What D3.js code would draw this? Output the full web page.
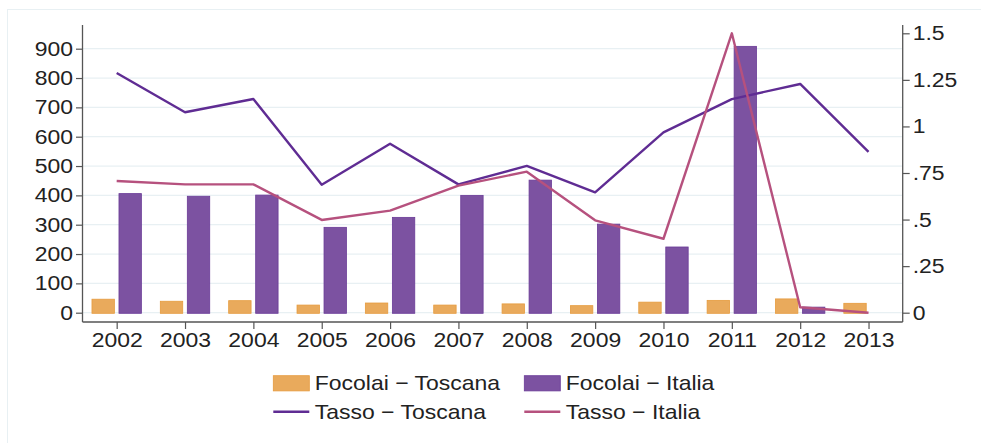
<!DOCTYPE html>
<html>
<head>
<meta charset="utf-8">
<script src="https://cdn.jsdelivr.net/npm/d3@7/dist/d3.min.js"></script>
<style>
  html, body { margin: 0; padding: 0; background: #fff; }
  svg { display: block; font-family: "Liberation Sans", Arial, Helvetica, sans-serif; }
</style>
</head>
<body>
<svg id="chart" width="981" height="443"></svg>
<script>
// Years on the x axis
const years = [2002, 2003, 2004, 2005, 2006, 2007, 2008, 2009, 2010, 2011, 2012, 2013];
// Outbreaks (left axis)
const focolaiToscana = [46, 39, 41, 26, 33, 26, 30, 24, 36, 42, 47, 32];
const focolaiItalia  = [406, 397, 401, 291, 325, 400, 452, 302, 224, 908, 19, 0];
// Rates (right axis)
const tassoToscana = [1.287, 1.076, 1.147, 0.687, 0.907, 0.689, 0.788, 0.646, 0.968, 1.147, 1.228, 0.863];
const tassoItalia  = [0.707, 0.689, 0.689, 0.498, 0.548, 0.682, 0.757, 0.496, 0.397, 1.5, 0.029, 0];
// Tick values and labels
const leftTicks = [0, 100, 200, 300, 400, 500, 600, 700, 800, 900];
const rightTicks = [0, 0.25, 0.5, 0.75, 1, 1.25, 1.5];
const rightTickLabels = ["0", ".25", ".5", ".75", "1", "1.25", "1.5"];
const legendLabels = ["Focolai \u2212 Toscana", "Focolai \u2212 Italia", "Tasso \u2212 Toscana", "Tasso \u2212 Italia"];

const colors = {
  orangeFill: "#E9AA5C", orangeStroke: "#E69B3D",
  purpleFill: "#7C52A1", purpleStroke: "#6A3B97",
  lineToscana: "#5F2C93", lineItalia: "#B6517E",
  grid: "#E8F0F3", axis: "#555555", text: "#222222"
};

const svg = d3.select("#chart");

// plot region
const plot = { left: 82.5, right: 902.7, top: 25, bottom: 322 };

const x = d3.scaleLinear().domain([2001.5, 2013.5]).range([plot.left, plot.right]);
const yL = d3.scaleLinear().domain([0, 900]).range([312.7, 48.7]);
const yR = d3.scaleLinear().domain([0, 1.5]).range([312.7, 33.3]);

// text is set slightly wide
const fontSize = 20.5;
const sx = 1.12;

// outer frame
svg.append("rect")
  .attr("x", 7.5).attr("y", 9.5).attr("width", 1000).attr("height", 1000)
  .attr("fill", "none").attr("stroke", colors.grid).attr("stroke-width", 1);

// horizontal grid
svg.append("g").selectAll("line").data(leftTicks).join("line")
  .attr("x1", plot.left).attr("x2", plot.right)
  .attr("y1", d => yL(d)).attr("y2", d => yL(d))
  .attr("stroke", colors.grid).attr("stroke-width", 1.2);

// bars
const barW = 22.4, off = 13.5;
svg.append("g").selectAll("rect").data(years.map((y, i) => ({ y, v: focolaiToscana[i] }))).join("rect")
  .attr("x", d => x(d.y) - off - barW / 2)
  .attr("y", d => yL(d.v))
  .attr("width", barW)
  .attr("height", d => yL(0) - yL(d.v) + 0.6)
  .attr("fill", colors.orangeFill).attr("stroke", colors.orangeStroke).attr("stroke-width", 0.8);

svg.append("g").selectAll("rect").data(years.map((y, i) => ({ y, v: focolaiItalia[i] })).filter(d => d.v > 0)).join("rect")
  .attr("x", d => x(d.y) + off - barW / 2)
  .attr("y", d => yL(d.v))
  .attr("width", barW)
  .attr("height", d => yL(0) - yL(d.v) + 0.6)
  .attr("fill", colors.purpleFill).attr("stroke", colors.purpleStroke).attr("stroke-width", 0.8);

// lines
const line = d3.line().x(d => x(d[0])).y(d => yR(d[1]));
svg.append("path")
  .datum(years.map((y, i) => [y, tassoToscana[i]]))
  .attr("d", line).attr("fill", "none")
  .attr("stroke", colors.lineToscana).attr("stroke-width", 2.4).attr("stroke-linejoin", "round");
svg.append("path")
  .datum(years.map((y, i) => [y, tassoItalia[i]]))
  .attr("d", line).attr("fill", "none")
  .attr("stroke", colors.lineItalia).attr("stroke-width", 2.4).attr("stroke-linejoin", "round");

// axes
const gL = svg.append("g").attr("transform", `translate(${plot.left},0)`)
  .call(d3.axisLeft(yL).tickValues(leftTicks).tickSize(6.5).tickPadding(3).tickFormat(d3.format("d")));
const gR = svg.append("g").attr("transform", `translate(${plot.right},0)`)
  .call(d3.axisRight(yR).tickValues(rightTicks).tickSize(7).tickPadding(3)
    .tickFormat((d, i) => rightTickLabels[i]));
const gX = svg.append("g").attr("transform", `translate(0,${plot.bottom})`)
  .call(d3.axisBottom(x).tickValues(years).tickSize(7).tickPadding(3).tickFormat(d3.format("d")));

[gL, gR, gX].forEach(g => {
  g.select(".domain").remove();
  g.selectAll(".tick line").attr("stroke", colors.axis).attr("stroke-width", 1.2);
  g.selectAll(".tick text").attr("fill", colors.text).style("font-size", fontSize + "px")
    .style("font-family", "'Liberation Sans', Arial, Helvetica, sans-serif")
    .attr("x", function () { return (+d3.select(this).attr("x") || 0) / sx; })
    .attr("transform", `scale(${sx},1)`);
});

// axis lines
const axisLines = [
  [plot.left, plot.top, plot.left, plot.bottom],
  [plot.right, plot.top, plot.right, plot.bottom],
  [plot.left, plot.bottom, plot.right, plot.bottom]
];
svg.append("g").selectAll("line").data(axisLines).join("line")
  .attr("x1", d => d[0]).attr("y1", d => d[1]).attr("x2", d => d[2]).attr("y2", d => d[3])
  .attr("stroke", colors.axis).attr("stroke-width", 1.3);

// legend
const legend = svg.append("g");
const cols = [273.3, 524.3];
const rows = [383.3, 411.7];
const items = [
  { type: "rect", fill: colors.orangeFill, stroke: colors.orangeStroke },
  { type: "rect", fill: colors.purpleFill, stroke: colors.purpleStroke },
  { type: "line", stroke: colors.lineToscana },
  { type: "line", stroke: colors.lineItalia }
];
items.forEach((it, i) => {
  const cx = cols[i % 2], cy = rows[Math.floor(i / 2)];
  if (it.type === "rect") {
    legend.append("rect").attr("x", cx).attr("y", cy - 7.6).attr("width", 36).attr("height", 15.2)
      .attr("fill", it.fill).attr("stroke", it.stroke).attr("stroke-width", 0.8);
  } else {
    legend.append("line").attr("x1", cx).attr("x2", cx + 36).attr("y1", cy).attr("y2", cy)
      .attr("stroke", it.stroke).attr("stroke-width", 2.4);
  }
  legend.append("text")
    .attr("transform", `translate(${cx + 41.5},${cy}) scale(${sx},1)`)
    .attr("dy", "0.35em")
    .attr("fill", colors.text).style("font-size", fontSize + "px")
    .text(legendLabels[i]);
});
</script>
</body>
</html>
